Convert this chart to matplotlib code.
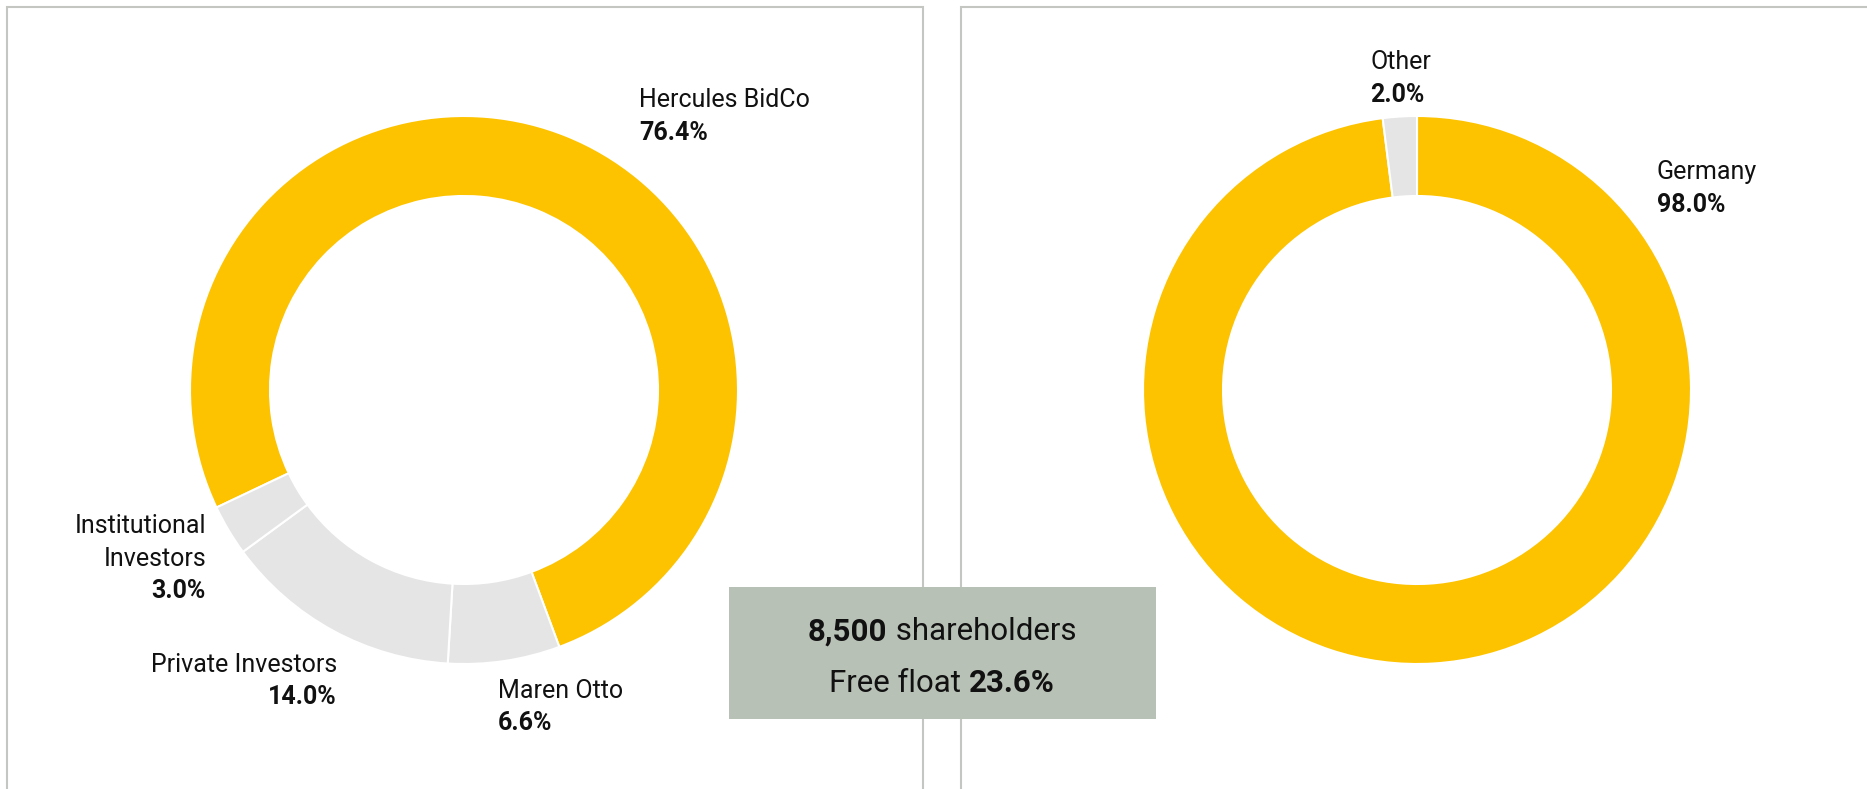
import matplotlib.pyplot as plt
from matplotlib.patches import Rectangle

# shareholder structure
holders = ["Hercules BidCo", "Maren Otto", "Private Investors", "Institutional Investors"]
holder_share = [76.4, 6.6, 14.0, 3.0]
holder_colors = ["#FDC300", "#E5E5E5", "#E5E5E5", "#E5E5E5"]

# regional distribution
regions = ["Germany", "Other"]
region_share = [98.0, 2.0]
region_colors = ["#FDC300", "#E5E5E5"]

shareholders = "8,500"
free_float = "23.6%"

W, H = 1867, 789
plt.rcParams["font.family"] = ["Roboto", "DejaVu Sans"]

fig = plt.figure(figsize=(W / 100, H / 100), dpi=100)
ax = fig.add_axes([0, 0, 1, 1])


def fy(y):
    # picture rows run downwards, axes upwards
    return H - y


wedge = dict(width=80, edgecolor="white", linewidth=1.5)
ax.pie(holder_share, colors=holder_colors, startangle=205.4, counterclock=False,
       center=(464, fy(390)), radius=274, wedgeprops=wedge)
ax.pie(region_share, colors=region_colors, startangle=90, counterclock=False,
       center=(1417, fy(390)), radius=274, wedgeprops=wedge)

ax.set_xlim(0, W)
ax.set_ylim(0, H)
ax.set_aspect("auto")
ax.axis("off")

# panel frames
frame = dict(fill=False, edgecolor="#C3C6C1", linewidth=1.5)
ax.add_patch(Rectangle((7, fy(800)), 916, 793, **frame))
ax.add_patch(Rectangle((961, fy(800)), 920, 793, **frame))

fs = 18
step = 32.5


def label(x, y, lines, value, ha="left"):
    for i, s in enumerate(lines):
        ax.text(x, fy(y + step * i), s, ha=ha, va="center", fontsize=fs,
                color="#111111")
    ax.text(x, fy(y + step * len(lines)), value, ha=ha, va="center",
            fontsize=fs, fontweight="bold", color="#111111")


label(639, 100, [holders[0]], f"{holder_share[0]:.1f}%")
label(498, 691, [holders[1]], f"{holder_share[1]:.1f}%")
label(337, 665, [holders[2]], f"{holder_share[2]:.1f}%", ha="right")
label(206, 526, holders[3].split(" "), f"{holder_share[3]:.1f}%", ha="right")
label(1657, 172, [regions[0]], f"{region_share[0]:.1f}%")
label(1370, 62, [regions[1]], f"{region_share[1]:.1f}%")

# info box
ax.add_patch(Rectangle((729, fy(719)), 427, 132, facecolor="#B8C1B5",
                       edgecolor="none", zorder=3))

renderer = fig.canvas.get_renderer()


def mixed_line(cx, y, parts, size):
    # parts: list of (text, weight); centred on cx
    texts = []
    for s, w in parts:
        t = ax.text(0, fy(y), s, fontsize=size, fontweight=w, ha="left",
                    va="center", color="#111111", zorder=4)
        texts.append(t)
    widths = [t.get_window_extent(renderer).width for t in texts]
    x = cx - sum(widths) / 2
    for t, w in zip(texts, widths):
        t.set_x(x)
        x += w


mixed_line(942, 632, [(shareholders, "bold"), (" shareholders", "normal")], 22.5)
mixed_line(942, 683, [("Free float ", "normal"), (free_float, "bold")], 22.5)

fig.savefig("out.png", dpi=100)
